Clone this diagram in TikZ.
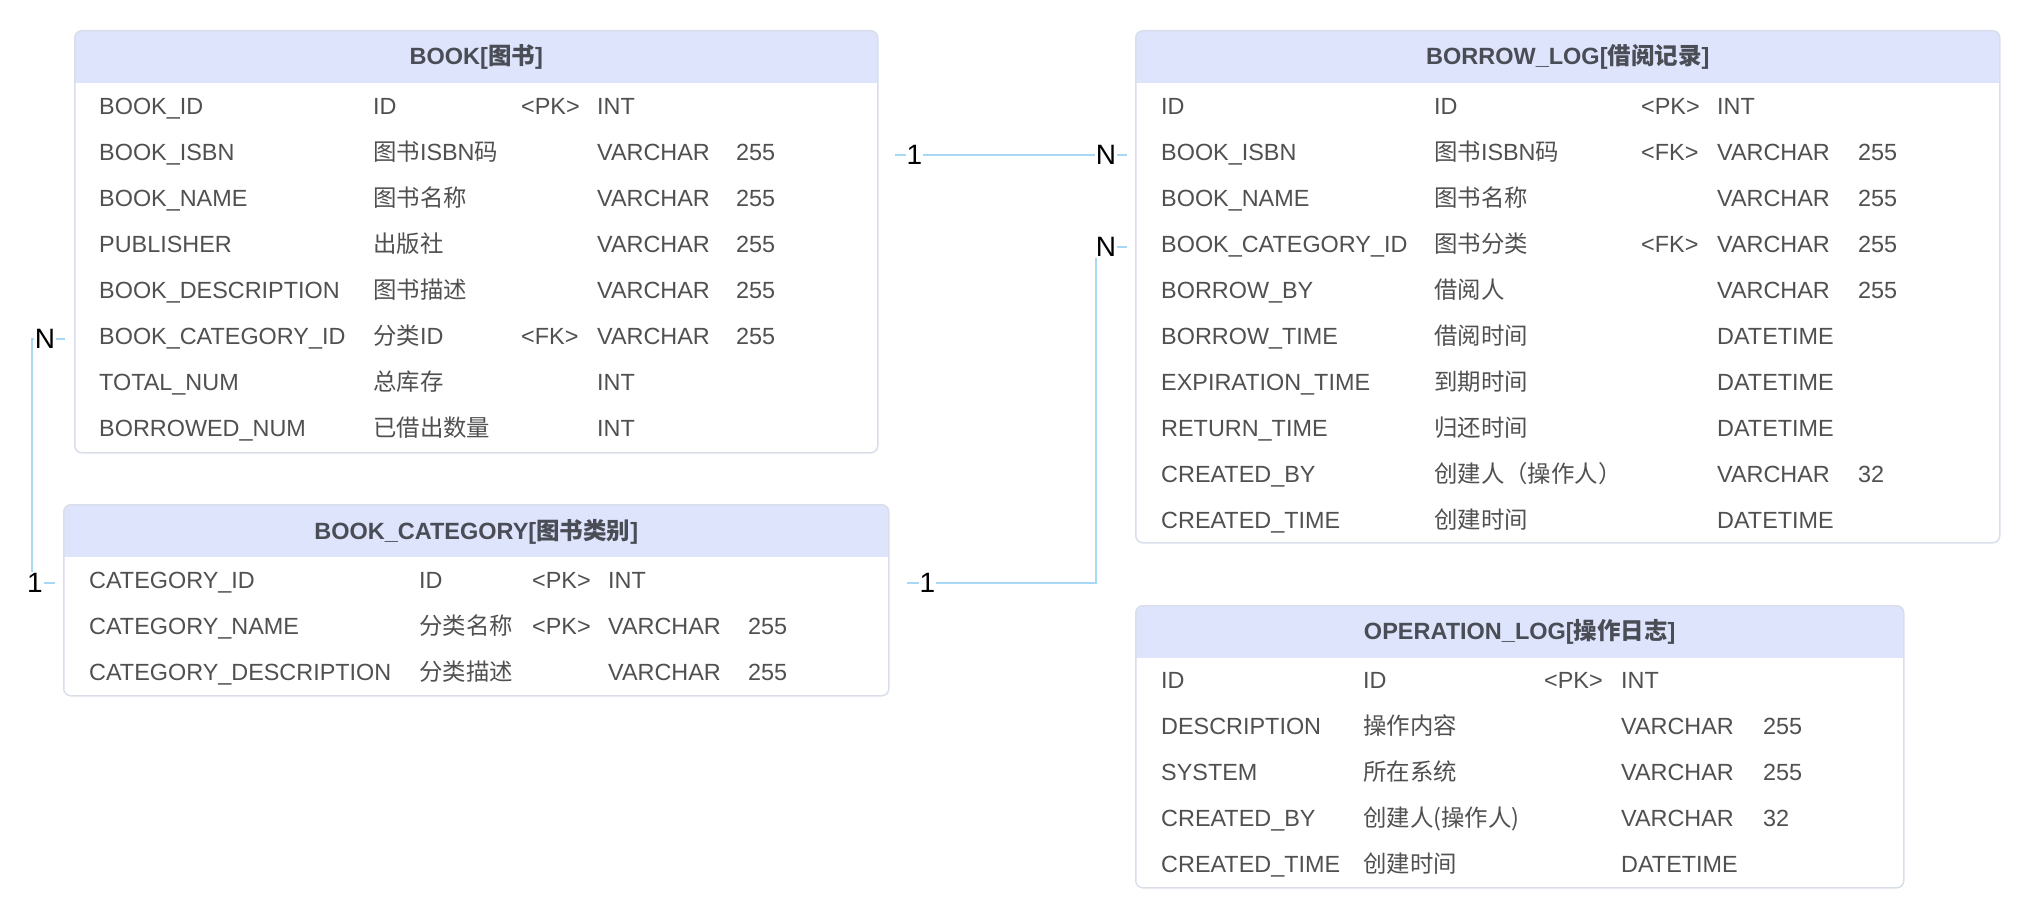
\documentclass[tikz,border=0pt]{standalone}
\usepackage{fontspec}
\setmainfont{Liberation Sans}
\newfontfamily\cjk{Noto Sans CJK SC}
\newcommand{\zh}[1]{{\cjk #1}}
\usetikzlibrary{calc}
\definecolor{fondtete}{HTML}{DDE4FB}
\definecolor{bordure}{HTML}{D9DEEA}
\definecolor{bleulien}{HTML}{A9D8F5}
\definecolor{gristexte}{HTML}{505050}
\definecolor{gristitre}{HTML}{4A4C56}
\tikzset{
    tablebox/.style={draw=bordure, line width=1.5pt, rounded corners=7pt, fill=white,
        anchor=north west, inner sep=0pt,
        path picture={\fill[fondtete, sharp corners] (path picture bounding box.north west)
            rectangle ([yshift=-52pt]path picture bounding box.north east);}},
    titre/.style={font=\fontsize{23.5}{28}\selectfont\bfseries, text=gristitre, inner sep=0pt},
    champ/.style={font=\fontsize{23.4}{28}\selectfont, text=gristexte, anchor=west,
        inner sep=0pt, text height=17pt, text depth=0pt},
    lien/.style={draw=bleulien, line width=1.8pt},
    card/.style={font=\fontsize{28}{32}\selectfont, fill=white, inner sep=1pt}
}
\begin{document}
\begin{tikzpicture}[x=1pt, y=-1pt]
    \useasboundingbox (0, 0) rectangle (2030, 917);

    % Table BOOK
    \node[tablebox, minimum width=803pt, minimum height=422pt] (book) at (74, 30) {};
    \node[titre] (book-t) at ([yshift=-27pt]book.north) {BOOK[\zh{图书}]};
    \foreach \i/\a/\b/\c/\d/\e in {
        1/BOOK\_ID/ID/<PK>/INT/,
        2/BOOK\_ISBN/\zh{图书}ISBN\zh{码}//VARCHAR/255,
        3/BOOK\_NAME/\zh{图书名称}//VARCHAR/255,
        4/PUBLISHER/\zh{出版社}//VARCHAR/255,
        5/BOOK\_DESCRIPTION/\zh{图书描述}//VARCHAR/255,
        6/BOOK\_CATEGORY\_ID/\zh{分类}ID/<FK>/VARCHAR/255,
        7/TOTAL\_NUM/\zh{总库存}//INT/,
        8/BORROWED\_NUM/\zh{已借出数量}//INT/}{
        \node[champ] (book-\i) at (99, 60+46*\i) {\a};
        \node[champ] (book-\i-b) at (373, 60+46*\i) {\b};
        \node[champ] (book-\i-c) at (521, 60+46*\i) {\c};
        \node[champ] (book-\i-d) at (597, 60+46*\i) {\d};
        \node[champ] (book-\i-e) at (736, 60+46*\i) {\e};
    }

    % Table BORROW_LOG
    \node[tablebox, minimum width=864pt, minimum height=512pt] (borrow) at (1135, 30) {};
    \node[titre] (borrow-t) at ([yshift=-27pt]borrow.north) {BORROW\_LOG[\zh{借阅记录}]};
    \foreach \i/\a/\b/\c/\d/\e in {
        1/ID/ID/<PK>/INT/,
        2/BOOK\_ISBN/\zh{图书}ISBN\zh{码}/<FK>/VARCHAR/255,
        3/BOOK\_NAME/\zh{图书名称}//VARCHAR/255,
        4/BOOK\_CATEGORY\_ID/\zh{图书分类}/<FK>/VARCHAR/255,
        5/BORROW\_BY/\zh{借阅人}//VARCHAR/255,
        6/BORROW\_TIME/\zh{借阅时间}//DATETIME/,
        7/EXPIRATION\_TIME/\zh{到期时间}//DATETIME/,
        8/RETURN\_TIME/\zh{归还时间}//DATETIME/,
        9/CREATED\_BY/\zh{创建人（操作人）}//VARCHAR/32,
        10/CREATED\_TIME/\zh{创建时间}//DATETIME/}{
        \node[champ] (borrow-\i) at (1161, 60+46*\i) {\a};
        \node[champ] (borrow-\i-b) at (1434, 60+46*\i) {\b};
        \node[champ] (borrow-\i-c) at (1641, 60+46*\i) {\c};
        \node[champ] (borrow-\i-d) at (1717, 60+46*\i) {\d};
        \node[champ] (borrow-\i-e) at (1858, 60+46*\i) {\e};
    }

    % Table BOOK_CATEGORY
    \node[tablebox, minimum width=825pt, minimum height=191pt] (cat) at (63, 504) {};
    \node[titre] (cat-t) at ([yshift=-28pt]cat.north) {BOOK\_CATEGORY[\zh{图书类别}]};
    \foreach \i/\a/\b/\c/\d/\e in {
        1/CATEGORY\_ID/ID/<PK>/INT/,
        2/CATEGORY\_NAME/\zh{分类名称}/<PK>/VARCHAR/255,
        3/CATEGORY\_DESCRIPTION/\zh{分类描述}//VARCHAR/255}{
        \node[champ] (cat-\i) at (89, 534+46*\i) {\a};
        \node[champ] (cat-\i-b) at (419, 534+46*\i) {\b};
        \node[champ] (cat-\i-c) at (532, 534+46*\i) {\c};
        \node[champ] (cat-\i-d) at (608, 534+46*\i) {\d};
        \node[champ] (cat-\i-e) at (748, 534+46*\i) {\e};
    }

    % Table OPERATION_LOG
    \node[tablebox, minimum width=768pt, minimum height=282pt] (oplog) at (1135, 605) {};
    \node[titre] (oplog-t) at ([yshift=-27pt]oplog.north) {OPERATION\_LOG[\zh{操作日志}]};
    \foreach \i/\a/\b/\c/\d/\e in {
        1/ID/ID/<PK>/INT/,
        2/DESCRIPTION/\zh{操作内容}//VARCHAR/255,
        3/SYSTEM/\zh{所在系统}//VARCHAR/255,
        4/CREATED\_BY/\zh{创建人(操作人)}//VARCHAR/32,
        5/CREATED\_TIME/\zh{创建时间}//DATETIME/}{
        \node[champ] (oplog-\i) at (1161, 634+46*\i) {\a};
        \node[champ] (oplog-\i-b) at (1363, 634+46*\i) {\b};
        \node[champ] (oplog-\i-c) at (1544, 634+46*\i) {\c};
        \node[champ] (oplog-\i-d) at (1621, 634+46*\i) {\d};
        \node[champ] (oplog-\i-e) at (1763, 634+46*\i) {\e};
    }

    % Liens 1-N
    \draw[lien] ($(book.east |- book-2.west)+(16,3)$) -- ($(borrow.west |- borrow-2.west)+(-8,3)$);
    \node[card] (l1-a) at ($(book.east |- book-2.west)+(36,3)$) {1};
    \node[card] (l1-b) at ($(borrow.west |- borrow-2.west)+(-29,3)$) {N};

    \coordinate (coude-g) at ($(book.west |- book-6.west)+(-42,3)$);
    \draw[lien] ($(book.west |- book-6.west)+(-9,3)$) -- (coude-g) |- ($(cat.west |- cat-1.west)+(-8,3)$);
    \node[card] (l2-a) at ($(book.west |- book-6.west)+(-29,3)$) {N};
    \node[card] (l2-b) at ($(cat.west |- cat-1.west)+(-28,3)$) {1};

    \coordinate (coude-d) at ($(borrow.west |- cat-1.west)+(-39,3)$);
    \draw[lien] ($(cat.east |- cat-1.west)+(17,3)$) -- (coude-d) |- ($(borrow.west |- borrow-4.west)+(-8,3)$);
    \node[card] (l3-a) at ($(cat.east |- cat-1.west)+(38,3)$) {1};
    \node[card] (l3-b) at ($(borrow.west |- borrow-4.west)+(-29,3)$) {N};
\end{tikzpicture}
\end{document}
